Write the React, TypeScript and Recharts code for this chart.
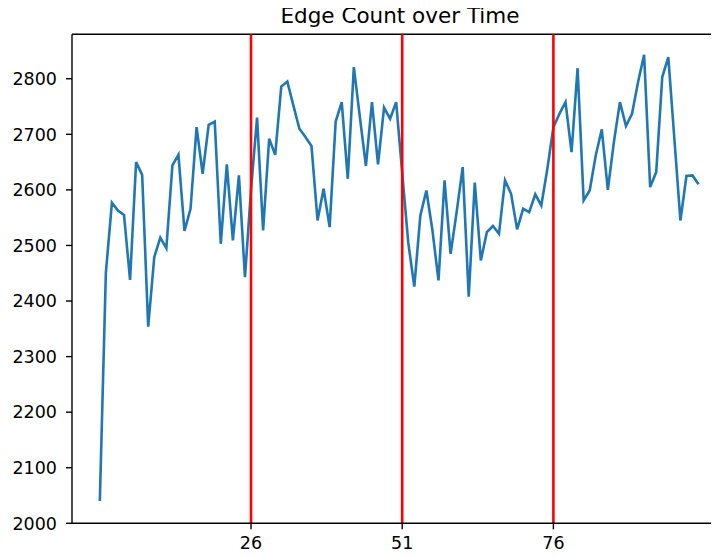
import { LineChart, Line, XAxis, YAxis, ReferenceLine } from "recharts";

// edge counts per time step (steps 1..100)
const edgeCounts = [
  2040, 2451, 2577, 2563, 2555, 2438, 2650, 2627, 2354, 2479,
  2514, 2495, 2644, 2663, 2526, 2566, 2713, 2629, 2717, 2723,
  2503, 2646, 2509, 2626, 2443, 2600, 2730, 2527, 2692, 2663,
  2786, 2795, 2752, 2710, 2695, 2679, 2545, 2602, 2533, 2723,
  2758, 2620, 2821, 2731, 2643, 2758, 2646, 2748, 2728, 2758,
  2630, 2505, 2426, 2554, 2599, 2527, 2437, 2617, 2485, 2560,
  2641, 2408, 2613, 2473, 2524, 2535, 2521, 2617, 2593, 2529,
  2566, 2560, 2592, 2572, 2638, 2713, 2737, 2758, 2668, 2819,
  2581, 2599, 2662, 2709, 2600, 2686, 2758, 2715, 2737, 2794,
  2843, 2605, 2632, 2803, 2839, 2692, 2545, 2625, 2626, 2610,
];

const markers = [26, 51, 76];
const yTicks = [2000, 2100, 2200, 2300, 2400, 2500, 2600, 2700, 2800];

const chartData = edgeCounts.map((count, i) => ({ step: i + 1, count }));

const font = "'DejaVu Sans', sans-serif";
const tickStyle = { fontSize: 17.5, fill: "#000", fontFamily: font };

export default function App() {
  return (
    // cancel the body margin so the page is exactly the window; the axes run off the right edge
    <div style={{ margin: -8, width: 719, height: 558, overflow: "hidden", position: "relative" }}>
      <div
        style={{
          position: "absolute",
          left: 200,
          top: 2.75,
          width: 400,
          textAlign: "center",
          fontFamily: font,
          fontSize: 21.5,
          color: "#000",
          zIndex: 1,
        }}
      >
        Edge Count over Time
      </div>
      <div style={{ position: "absolute", left: 8, top: 8 }}>
        <LineChart
          width={740}
          height={550}
          data={chartData}
          margin={{ top: 26.3, right: 20, bottom: 8, left: 0 }}
        >
          <XAxis
            dataKey="step"
            type="number"
            domain={[-3.6, 104.87]}
            ticks={markers}
            allowDataOverflow
            stroke="#000"
            strokeWidth={1.4}
            tickSize={6}
            tickMargin={7}
            tick={tickStyle}
            height={26.7}
          />
          <YAxis
            type="number"
            domain={[2000, 2880]}
            ticks={yTicks}
            allowDataOverflow
            stroke="#000"
            strokeWidth={1.4}
            tickSize={6}
            tickMargin={9}
            tick={tickStyle}
            width={64}
          />
          <ReferenceLine y={2880} stroke="#000" strokeWidth={1.4} />
          <Line
            type="linear"
            dataKey="count"
            stroke="#1f77b4"
            strokeWidth={2.6}
            dot={false}
            isAnimationActive={false}
          />
          {markers.map((m) => (
            <ReferenceLine key={m} x={m} stroke="#ff0000" strokeWidth={2.6} />
          ))}
        </LineChart>
      </div>
    </div>
  );
}
